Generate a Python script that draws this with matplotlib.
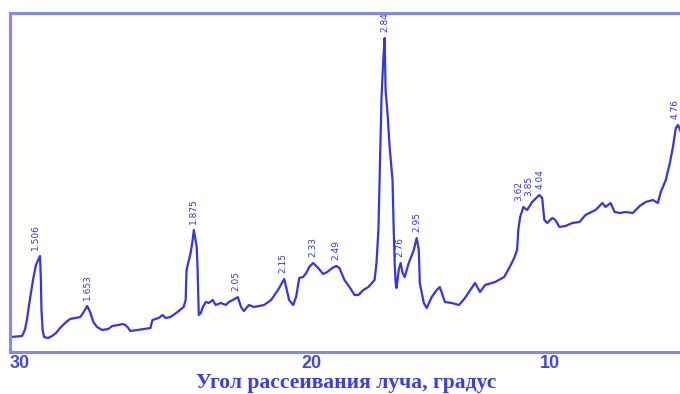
"""
X-ray diffraction pattern with d-spacing labels over the main reflections.
"""
import numpy as np
import matplotlib
matplotlib.use("Agg")
import matplotlib.pyplot as plt

# -------------------------------------------------------------------------------------------------
# Data
# -------------------------------------------------------------------------------------------------

# scattering angle, degrees
angle = [
    30.31, 29.93, 29.83, 29.76, 29.66, 29.55, 29.45, 29.31, 29.28, 29.26,
    29.22, 29.17, 29.03, 28.90, 28.76, 28.62, 28.45, 28.28, 28.10, 27.93,
    27.83, 27.69, 27.59, 27.48, 27.35, 27.17, 26.97, 26.83, 26.62, 26.48,
    26.38, 26.28, 26.21, 25.97, 25.52, 25.45, 25.24, 25.10, 25.00, 24.83,
    24.59, 24.38, 24.31, 24.28, 24.14, 24.07, 24.03, 23.93, 23.90, 23.86,
    23.79, 23.72, 23.62, 23.52, 23.38, 23.28, 23.10, 22.93, 22.83, 22.69,
    22.52, 22.41, 22.31, 22.14, 21.97, 21.62, 21.38, 21.14, 20.93, 20.86,
    20.76, 20.62, 20.52, 20.41, 20.28, 20.17, 20.07, 19.92, 19.71, 19.50,
    19.33, 19.12, 18.95, 18.82, 18.61, 18.40, 18.19, 18.03, 17.82, 17.61,
    17.35, 17.27, 17.19, 17.14, 17.06, 16.98, 16.93, 16.89, 16.81, 16.72,
    16.60, 16.55, 16.51, 16.47, 16.43, 16.34, 16.26, 16.18, 16.09, 15.92,
    15.71, 15.59, 15.50, 15.46, 15.29, 15.17, 14.96, 14.75, 14.62, 14.41,
    14.12, 13.82, 13.57, 13.15, 12.94, 12.73, 12.31, 11.93, 11.72, 11.51,
    11.39, 11.34, 11.26, 11.13, 10.97, 10.76, 10.46, 10.34, 10.25, 10.13,
    9.92, 9.79, 9.62, 9.37, 9.08, 8.78, 8.53, 8.11, 7.82, 7.69,
    7.48, 7.31, 7.10, 6.85, 6.55, 6.26, 6.01, 5.71, 5.50, 5.38,
    5.17, 5.00, 4.87, 4.75, 4.66, 4.54, 4.41,
]

# intensity, arbitrary units
intensity = [
    15, 16, 22, 32, 52, 72, 87, 96, 72, 42,
    22, 15, 14, 16, 19, 24, 29, 33, 34, 35,
    39, 46, 40, 30, 25, 22, 23, 26, 27, 28,
    27, 24, 21, 22, 24, 32, 34, 37, 34, 35,
    40, 45, 52, 82, 99, 112, 122, 105, 82, 37,
    39, 45, 50, 49, 52, 47, 49, 47, 50, 52,
    55, 45, 41, 47, 45, 47, 52, 62, 73, 65,
    52, 47, 55, 74, 75, 79, 85, 89, 84, 78,
    80, 84, 86, 84, 72, 65, 57, 57, 62, 65,
    72, 89, 122, 172, 255, 295, 314, 262, 239, 205,
    172, 122, 89, 69, 64, 82, 89, 79, 75, 89,
    102, 114, 102, 69, 49, 44, 55, 62, 65, 50,
    49, 47, 54, 69, 60, 67, 70, 75, 84, 94,
    102, 122, 135, 145, 142, 150, 157, 154, 132, 129,
    134, 132, 125, 126, 129, 130, 137, 142, 149, 145,
    149, 140, 139, 140, 139, 146, 150, 152, 149, 160,
    172, 189, 205, 224, 227, 220, 218,
]

# interplanar spacings written over the reflections, and where they stand
peak_labels = ["1.506", "1.653", "1.875", "2.05", "2.15", "2.33", "2.49",
               "2.84", "2.76", "2.95", "3.62", "3.85", "4.04", "4.76"]
peak_angles = [29.45, 27.69, 24.03, 22.60, 20.96, 19.95, 18.95,
               16.93, 16.30, 15.59, 11.30, 10.88, 10.42, 4.80]

tick_values = [30, 20, 10]

# -------------------------------------------------------------------------------------------------
# Axis scale: the angle axis is stretched more below 20 degrees than above it
# -------------------------------------------------------------------------------------------------

def forward(x):
    x = np.asarray(x, dtype=float)
    return np.where(x >= 20, (x - 20) * 29.0, (x - 20) * 23.8)


def inverse(y):
    y = np.asarray(y, dtype=float)
    return np.where(y >= 0, y / 29.0 + 20, y / 23.8 + 20)


# -------------------------------------------------------------------------------------------------
# Plot
# -------------------------------------------------------------------------------------------------

line_clr = "#3434ee"
frame_clr = "#8585ff"

fig = plt.figure(figsize=(6.8, 3.94), dpi=100)
ax = fig.add_axes([10 / 680, 42 / 394, 673 / 680, 339 / 394])
ax.set_xscale("function", functions=(forward, inverse))

ax.plot(angle, intensity, color=line_clr, lw=1.6, solid_joinstyle="round")

# each label sits just above the highest point of the curve around it
ang = np.array(angle)
inten = np.array(intensity)
for text, pos in zip(peak_labels, peak_angles):
    near = np.abs(ang - pos) < 0.2
    top = inten[near].max()
    ax.annotate(text, (pos, top), xytext=(0, 4), textcoords="offset points",
                rotation=90, ha="center", va="bottom", fontsize=6.5,
                family=["Liberation Sans Narrow", "DejaVu Sans"], color=line_clr)

ax.set_xlim(30.34, 4.45)
ax.set_ylim(0, 339)

ax.set_xticks(tick_values)
ax.set_xticklabels([str(t) for t in tick_values])
ax.xaxis.set_minor_locator(matplotlib.ticker.NullLocator())
ax.tick_params(axis="x", length=0, pad=2, labelsize=13, labelcolor="#4646ee")
for lbl in ax.get_xticklabels():
    lbl.set_fontweight("bold")
    lbl.set_family("Liberation Sans")
ax.set_yticks([])

for side in ["left", "top", "bottom"]:
    ax.spines[side].set_color(frame_clr)
    ax.spines[side].set_linewidth(2.2)
ax.spines["right"].set_visible(False)

ax.set_xlabel("Угол рассеивания луча, градус", fontsize=15.5, fontweight="bold",
              family="Liberation Serif", color="#3a3aee", labelpad=1)

fig.savefig("out.png", dpi=100)
